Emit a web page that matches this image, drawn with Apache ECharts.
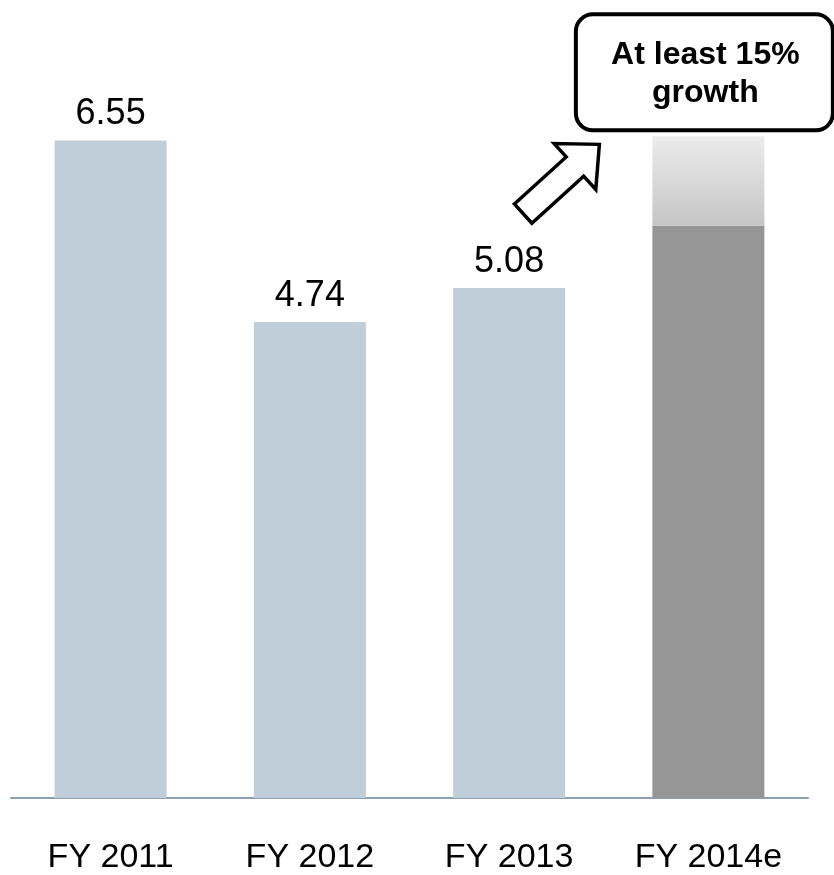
<!DOCTYPE html>
<html>
<head>
<meta charset="utf-8">
<script src="https://cdn.jsdelivr.net/npm/echarts@6/dist/echarts.min.js"></script>
<style>
html,body{margin:0;padding:0;background:#fff;}
#chart{width:834px;height:875px;}
</style>
</head>
<body>
<div id="chart"></div>
<script>
// Data
var categories = ['FY 2011', 'FY 2012', 'FY 2013', 'FY 2014e'];
var actualValues = [6.55, 4.74, 5.08, 5.70];
var growthValues = [null, null, null, 0.89];
var valueLabels = ['6.55', '4.74', '5.08', ''];
var calloutText = 'At least 15%\ngrowth';

var chart = echarts.init(document.getElementById('chart'), null, {renderer: 'canvas'});

var baseData = actualValues.map(function (v, i) {
  var item = {value: v};
  if (i === 3) {
    item.itemStyle = {color: '#969696'};
    item.label = {show: false};
  }
  return item;
});

var option = {
  animation: false,
  backgroundColor: '#ffffff',
  grid: {left: 11, right: 26, top: 45, bottom: 75},
  xAxis: {
    type: 'category',
    data: categories,
    axisLine: {show: true, lineStyle: {color: '#8ca0b1', width: 2}},
    axisTick: {show: false},
    axisLabel: {
      color: '#000',
      fontSize: 34,
      lineHeight: 34,
      fontFamily: 'Liberation Sans, Arial, sans-serif',
      margin: 43,
      interval: 0
    }
  },
  yAxis: {
    type: 'value',
    min: 0,
    max: 7.5,
    show: false,
    splitLine: {show: false}
  },
  series: [
    {
      type: 'bar',
      stack: 'total',
      data: baseData,
      barWidth: 112,
      itemStyle: {color: '#c0ced9'},
      label: {
        show: true,
        position: 'top',
        distance: 8,
        color: '#000',
        fontSize: 36,
        lineHeight: 36,
        fontFamily: 'Liberation Sans, Arial, sans-serif',
        formatter: function (p) { return valueLabels[p.dataIndex]; }
      }
    },
    {
      type: 'bar',
      stack: 'total',
      data: growthValues,
      barWidth: 112,
      itemStyle: {
        color: new echarts.graphic.LinearGradient(0, 0, 0, 1, [
          {offset: 0, color: '#ececec'},
          {offset: 1, color: '#c5c5c5'}
        ])
      },
      label: {show: false}
    }
  ]
};

chart.setOption(option);

// Annotations positioned relative to the FY 2014e bar
var topPt = chart.convertToPixel({gridIndex: 0}, [3, actualValues[3] + growthValues[3]]);
var cx = topPt[0];
var topY = topPt[1];

// callout box
var boxW = 257, boxH = 116;
var boxCx = cx - 4;
var boxBottom = topY - 6;
var boxTop = boxBottom - boxH;

// arrow
var tip = [cx - 109, topY + 8];
var L = 103, headL = 33, shaftHW = 13, headHW = 31;
var ang = Math.atan2(-69, 76);
var dir = [Math.cos(ang), Math.sin(ang)];
var perp = [-dir[1], dir[0]];
var tail = [tip[0] - L * dir[0], tip[1] - L * dir[1]];
function pt(a, b) {
  return [tail[0] + a * dir[0] + b * perp[0], tail[1] + a * dir[1] + b * perp[1]];
}
var arrowPts = [
  pt(0, -shaftHW), pt(L - headL, -shaftHW), pt(L - headL, -headHW),
  pt(L, 0), pt(L - headL, headHW), pt(L - headL, shaftHW), pt(0, shaftHW)
];

chart.setOption({
  graphic: [
    {
      type: 'rect',
      shape: {x: boxCx - boxW / 2, y: boxTop, width: boxW, height: boxH, r: 17},
      style: {fill: '#ffffff', stroke: '#000000', lineWidth: 4},
      z: 100
    },
    {
      type: 'text',
      x: boxCx + 1,
      y: boxTop + boxH / 2 + 2,
      style: {
        text: calloutText,
        fill: '#000',
        font: 'bold 32px "Liberation Sans", Arial, sans-serif',
        lineHeight: 38,
        align: 'center',
        verticalAlign: 'middle'
      },
      z: 101
    },
    {
      type: 'polygon',
      shape: {points: arrowPts},
      style: {fill: '#ffffff', stroke: '#000000', lineWidth: 3.5, lineJoin: 'miter'},
      z: 100
    }
  ]
});
</script>
</body>
</html>
